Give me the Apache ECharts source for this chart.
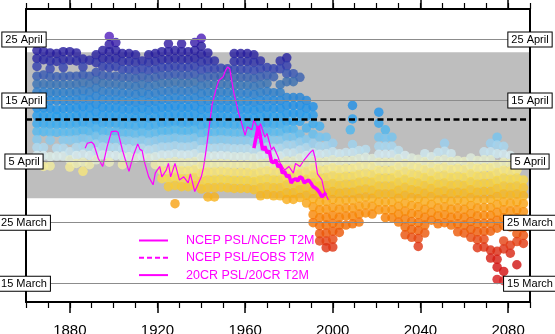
<!DOCTYPE html>
<html>
<head>
<meta charset="utf-8">
<script src="https://cdn.jsdelivr.net/npm/echarts@6.0.0/dist/echarts.min.js"></script>
<style>
  html, body { margin: 0; padding: 0; background: #fff; }
  #chart { width: 555px; height: 334px; }
</style>
</head>
<body>
<div id="chart"></div>
<script>
// Date axis runs in day units; tick labels name the calendar dates.
const yTickValues = [75, 85, 95, 105, 115];
const yTickLabels = ['15 March', '25 March', '5 April', '15 April', '25 April'];
const xLabelYears = [1880, 1920, 1960, 2000, 2040, 2080];

// Climatological range (grey band) and mean date (dashed line)
const bandLow = 89.0;
const bandHigh = 112.9;
const meanDate = 101.9;

// Ensemble dates: each row is [year, date, date, ...]
const historicalEarly = [
  [1865,113.2,111.9,110.6,109,107.7,106.4,105.1,103.8,102.5,101.2,99.9,98.6,97.3,96,95],
  [1868,113,111.7,109.2,107.7,106.4,105.1,103.8,102.5,101.2,99.9,97.3,96,94.2],
  [1871,112.8,111.5,110.2,108.9,107.6,106.3,105,103.7,102.4,101.1,99.8,98.5,95.8,94.3],
  [1874,112.7,111.4,108.9,107.6,106.3,105,103.5,102.4,101.1,99.8,97.2,95.9],
  [1877,113,111.7,110.4,108.9,107.6,106.3,105,103.7,102.4,101.1,99.8,98.5,97.2,95.9],
  [1880,113,111.6,109,107.6,106.3,105,103.7,102.4,101.1,99.8,98.5,96.6,95.3,94.1],
  [1883,112.8,111.5,109,107.7,106.4,105.1,103.8,102.5,101.2,99.9,98.6,97.3,96,94.7],
  [1886,111.8,110.5,109.2,107.9,106.6,105.3,104,102.7,101.4,100.1,98.8,97.5,96.2,94.9,93.4],
  [1889,111.6,109,107.7,106.4,105.1,103.8,102.5,101.2,99.9,98.6,97.3,96,94.5],
  [1892,112.5,111.2,109.6,108.3,107,105.7,104.4,103.1,101.8,100.5,99.2,97.9,96.6,95.3],
  [1895,113.2,111.9,110.6,109.1,107.8,106.5,105.2,103.9,102.6,101.3,100,98.7,97.4,96.1],
  [1898,115.5,114.2,113,111.7,110.4,109,107.7,106.4,105.1,103.8,102.5,101.2,99.9,98.6,97.3,96,94.9],
  [1901,114.5,113.2,111.9,110.6,109,107.7,106.4,105.1,103.8,102.5,101.2,99.9,98.6,97.3,96],
  [1904,112.7,111.4,110.1,108.8,107.5,106.2,104.9,103.6,102.3,101,99.7,98.4,97.1,95.8,94.5],
  [1907,112.7,111.4,110.1,108.8,107.5,106.2,104.9,103.6,102.3,101,99.7,98.4,97.1,95.8],
  [1910,112.5,111.2,109.9,108.6,107.3,106,104.7,103.4,102.1,100.8,99.5,98.2,96.9,95.6],
  [1913,111.5,110.2,108.9,107.6,106.3,105,103.7,102.4,101.1,99.8,98.5,97.2,95.9],
  [1916,112.5,111.2,109.9,108.6,107.3,106,104.7,103.4,102.1,100.8,99.5,98.2,96.9,95.6],
  [1919,112.7,111.4,110.1,108.8,107.5,106.2,104.9,103.6,102.3,101,99.7,98.4,97.1,95.8,94.5],
  [1922,113,111.7,110.4,109.1,107.8,106.5,105.2,103.9,102.6,101.3,100,98.7,97.4,96.1,94.8,93.5,92.2],
  [1925,114.3,113,111.7,110.4,109.1,107.8,106.5,105.2,103.9,102.6,101.3,100,98.7,97.4,96.1,94.8,93.5,92.2,90.9],
  [1928,113.2,111.9,110.6,109.3,108,106.7,105.4,104.1,102.8,101.5,100.2,98.9,97.6,96.3,95,93.7,92.4,91.1,88.1],
  [1931,114.3,113,111.7,110.4,109.1,107.8,106.5,105.2,103.9,102.6,101.3,100,98.7,97.4,96.1,94.8,93.5,92.2,90.9],
  [1934,113,111.7,110.4,109.1,107.8,106.5,105.2,103.9,102.6,101.3,100,98.7,97.4,96.1,94.8,93.5,92.2,90.9],
  [1937,114.5,113.2,111.9,110.6,109.3,108,106.7,105.4,104.1,102.8,101.5,100.2,98.9,97.6,96.3,95,93.7,92.4,91.1],
  [1940,115.2,113.9,112.6,111.3,110,108.7,107.4,106.1,104.8,103.5,102.2,100.9,99.6,98.3,97,95.7,94.4,93.1,91.8,90.5],
  [1943,112.8,111.5,110.2,108.9,107.6,106.3,105,103.7,102.4,101.1,99.8,98.5,97.2,95.9,94.6,93.3,92,90.7,89.2]
];

const historicalLate = [
  [1946,111.5,110.2,108.9,107.6,106.3,105,103.7,102.4,101.1,99.8,98.5,97.2,95.9,94.6,93.3,92,90.7,89.2],
  [1949,110.3,109,107.7,106.4,105.1,103.8,102.5,101.2,99.9,98.6,97.3,96,94.7,93.4,92.1,90.8],
  [1952,110.2,108.9,107.6,106.3,105,103.7,102.4,101.1,99.8,98.5,97.2,95.9,94.6,93.3,92,90.7],
  [1955,112.7,111.4,110.1,108.8,107.5,106.2,104.9,103.6,102.3,101,99.7,98.4,97.1,95.8,94.5,93.2,91.9,90.6],
  [1958,112.7,111.4,110.1,108.8,107.5,106.2,104.9,103.6,102.3,101,99.7,98.4,97.1,95.8,94.5,93.2,91.9,90.6],
  [1961,112.7,111.4,110.1,108.8,107.5,106.2,104.9,103.6,102.3,101,99.7,98.4,97.1,95.8,94.5,93.2,91.9,90.6],
  [1964,112.5,111.2,109.9,108.6,107.3,106,104.7,103.4,102.1,100.8,99.5,98.2,96.9,95.6,94.3,93,91.7,90.4],
  [1967,111.5,110.2,108.9,107.6,106.3,105,103.7,102.4,101.1,99.8,98.5,97.2,95.9,94.6,93.3,92,90.7,89.4],
  [1970,110.4,109.1,107.8,106.5,105.2,103.9,102.6,101.3,100,98.7,97.4,96.1,94.8,93.5,92.2,90.9,89.6],
  [1973,110.2,108.9,106.3,105,103.7,102.4,101.1,99.8,98.5,97.2,95.9,94.6,93.3,92,90.7,89.4],
  [1976,111.5,110.2,107.6,106.3,105,103.7,102.4,101.1,99.8,98.5,97.2,95.9,94.6,93.3,92,90.7,89.4],
  [1979,112,110.7,109.4,108.1,105.5,104.2,102.9,101.6,100.3,99,97.7,96.4,95.1,93.8,92.5,91.2,89.9,88.8],
  [1982,109.4,108.1,105.5,104.2,102.9,101.6,100.3,99,97.7,96.4,95.1,93.8,92.5,91.2,89.9,88.8],
  [1985,108.8,105.5,104.2,102.9,101.6,99.5,98.2,96.9,95.6,94.3,93,91.7,90.4,89.1],
  [1988,105,103.7,102.4,100.5,98.6,97.3,96,94.7,93.4,92.1,90.8,89.5,88.2]
];

const projected = [
  [1991,104,102.6,101.2,99.5,98,96.5,95.2,94,92.8,91.5,90.2,88.9,87.6,86.3,85],
  [1994,100.8,99,97.5,96.2,94.9,93.6,92.3,91,89.7,88.4,87.1,85.8,84.5,83.2,82],
  [1997,99,97.6,96.3,95,93.7,92.4,91.1,89.8,88.5,87.2,85.9,84.6,83.3,82,80.9],
  [2000,98,96.6,95.3,94,92.7,91.4,90.1,88.8,87.5,86.2,84.9,83.6,82.3,81],
  [2003,96.3,95,93.7,92.4,91.1,89.8,88.5,87.2,85.9,84.6,83.4],
  [2006,96.5,95.2,93.9,92.6,91.3,90,88.7,87.4,86.1,84.6],
  [2008,100.2],
  [2009,104.2,102,97.8,96.5,95.2,93.9,92.6,91.3,90,88.7,87.4,86.1,84.8],
  [2012,96.8,95.5,94.2,92.9,91.6,90.3,89,87.7,86.4,85.1],
  [2015,97,95.7,94.4,93.1,91.8,90.5,89.2,87.9,86.6],
  [2018,95.5,94.2,92.9,91.6,90.3,89,87.7,86.4],
  [2021,103.1,101.3,99,97.5,96.2,94.9,93.6,92.3,91,89.7,88.4,87.1],
  [2024,100.2,98.8,97.5,96.2,94.9,93.6,92.3,91,89.7,88.4,87.1,85.8],
  [2027,99,97.5,96.2,94.9,93.6,92.3,91,89.7,88.4,87.1,85.8],
  [2030,96.8,95.5,94.2,92.9,91.6,90.3,89,87.7,86.4,85.1],
  [2033,96,94.7,93.4,92.1,90.8,89.5,88.2,86.9,85.6,84.3,83],
  [2036,95.6,94.3,93,91.7,90.4,89.1,87.8,86.5,85.2,83.9,82.6],
  [2039,95.4,94.1,92.8,91.5,90.2,88.9,87.6,86.3,85,83.7,82.4,81.1],
  [2042,96.3,95,93.7,92.4,91.1,89.8,88.5,87.2,85.9,84.6,83.3],
  [2045,95.8,94.5,93.2,91.9,90.6,89.3,88,86.7,85.4],
  [2048,96.5,95.2,93.9,92.6,91.3,90,88.7,87.4,86.1,84.8],
  [2051,98,96.7,95.4,94.1,92.8,91.5,90.2,88.9,87.6,86.3,85],
  [2054,96.3,95,93.7,92.4,91.1,89.8,88.5,87.2,85.9,84.6],
  [2057,95.2,93.9,92.6,91.3,90,88.7,87.4,86.1,84.8,83.5],
  [2060,95,93.7,92.4,91.1,89.8,88.5,87.2,85.9,84.6,83.3],
  [2063,95.6,94.3,93,91.7,90.4,89.1,87.8,86.5,85.2,83.9,82.6],
  [2066,95.2,93.9,92.6,91.3,90,88.7,87.4,86.1,84.8,83.5,82.2,80.9],
  [2069,96.6,95.3,94,92.7,91.4,90.1,88.8,87.5,86.2,84.9,83.6,82.3,81],
  [2072,98,96.6,95.3,94,92.7,91.4,90.1,88.8,87.5,86.2,84.9,83.6,80.5,79.2],
  [2075,99,97.7,96.3,94.5,93.2,91.9,90.6,89.3,88,86.7,85.4,84.1,80.3,79,77.7,75.7],
  [2078,97.5,96.2,94.9,93.6,92.3,91,89.7,88.4,87.1,85.8,84.5,82,80.7,77,75.5],
  [2081,96,94.7,93.4,92.1,90.8,89.5,88.2,86.9,85.6,84.3,81.3,80],
  [2084,93.6,92.3,91,89.7,88.4,87.1,85.8,84.5,83.2,81.9,78.1],
  [2087,92,90.7,89.4,88.1,86.8,85.5,84.2,82.9,81.6]
];

// Observation-based reconstructions
const ncepYears = [1964,1965,1966,1967,1968,1969,1970,1971,1972,1973,1974,1975,1976,1977,1978,1979,1980,1981,1982,1983,1984,1985,1986,1987,1988,1989,1990,1991,1992,1993,1994,1995,1996,1997];
const ncepDates = [97.2,99,100.8,99,96.9,97.5,96.4,96.8,95,94.8,95.3,94.1,94.5,93.1,93.4,92.5,92.8,91.5,92,92.2,91.8,92.5,92.3,91.5,91.8,92,91.5,90.9,90.7,90.4,89.9,89.2,89.6,89.9];

const eobsYears = [1965,1967,1969,1971,1973,1975,1977,1979,1981,1983,1985,1987,1989,1991,1993,1995,1997];
const eobsDates = [99.5,98.2,97,96.3,95,94.6,93.5,92.7,92,92.3,92.2,91.8,91.7,90.8,90.2,89.5,89.6];

const cr20Years = [1887,1888,1890,1891,1893,1895,1897,1899,1901,1902,1904,1906,1907,1909,1911,1912,1913,1914,1916,1918,1919,1921,1922,1924,1925,1926,1928,1930,1932,1934,1935,1937,1938,1940,1941,1942,1943,1944,1945,1947,1948,1950,1951,1952,1953,1954,1955,1956,1957,1958,1960,1961,1963,1964,1966,1967,1969,1970,1972,1973,1975,1976,1978,1980,1982,1983,1985,1987,1989,1990,1991,1992,1993,1994,1995,1996,1997,1998];
const cr20Dates = [97.2,98,98.2,97.8,95.5,94.2,97.4,99.9,100,99.8,96.9,94.5,93.4,96,97.9,97,96.8,95,92.5,91.2,93.1,94.2,92.5,93.6,94.7,92.5,94.7,92,92.5,91.5,93,90.1,90.9,92.5,94,96.4,99,101.8,104.5,107.2,108.3,108.9,109.9,110.5,110.2,108,106,104.5,103,101.8,99.3,100.7,100.2,101.8,100.2,101.2,99,99.6,96.9,97.4,95.8,94.7,93.6,94.2,93.1,94.7,94.2,95.3,96.2,96.6,96.9,95.5,93,92.5,92,90.4,89.5,88.7];

// Colour scale from early (red) to late (purple) dates, in 2-day steps from 74 to 118
const dateColors = [
  '#e86070','#d40a0a','#d01010','#d82410','#e44010','#ee6000','#f68000','#f8a010',
  '#f8bc20','#f8d848','#f8ec90','#d8ecf0','#98d0f0','#50b8f0','#28a0f0','#1e90e8',
  '#2a80d0','#3a70b0','#3448b4','#2620a0','#24169a','#6020c8','#8434d8'
];

const FONT = '"Liberation Sans", Arial, Helvetica, sans-serif';
const MAGENTA = '#ff00ff';

const rowsToPoints = rows => rows.flatMap(r => r.slice(1).map(v => [r[0], v]));
const pairUp = (xs, ys) => xs.map((x, i) => [x, ys[i]]);
const ensemblePoints = rowsToPoints(historicalEarly)
  .concat(rowsToPoints(historicalLate))
  .concat(rowsToPoints(projected));

const labelFor = v => {
  const i = yTickValues.indexOf(v);
  return i >= 0 ? yTickLabels[i] : '';
};

const xBase = { type: 'value', min: 1860, max: 2090, splitLine: { show: false } };
const yLabelBox = {
  customValues: yTickValues,
  formatter: labelFor,
  align: 'center',
  color: '#000',
  fontFamily: FONT,
  fontSize: 11,
  backgroundColor: '#fff',
  borderColor: '#000',
  borderWidth: 1,
  padding: [2, 3, 1, 3]
};

const chart = echarts.init(document.getElementById('chart'));
chart.setOption({
  animation: false,
  backgroundColor: '#fff',
  grid: { left: 26, right: 25, top: 9, bottom: 32, containLabel: false, outerBoundsMode: 'none' },
  xAxis: [
    Object.assign({}, xBase, {
      position: 'bottom', interval: 10,
      axisLine: { lineStyle: { color: '#000', width: 2 } },
      axisTick: { length: 6, lineStyle: { color: '#000', width: 1.2 } },
      axisLabel: { show: false }
    }),
    Object.assign({}, xBase, {
      position: 'bottom',
      axisLine: { show: false },
      axisTick: { customValues: xLabelYears, length: 11, lineStyle: { color: '#000', width: 1.5 } },
      axisLabel: {
        customValues: xLabelYears, formatter: v => String(v),
        color: '#000', fontFamily: FONT, fontSize: 15, margin: 21
      }
    }),
    Object.assign({}, xBase, {
      position: 'top', interval: 10,
      axisLine: { lineStyle: { color: '#000', width: 2 } },
      axisTick: { length: 6, lineStyle: { color: '#000', width: 1.2 } },
      axisLabel: { show: false }
    }),
    Object.assign({}, xBase, {
      position: 'top',
      axisLine: { show: false },
      axisTick: { customValues: xLabelYears, length: 9, lineStyle: { color: '#000', width: 1.5 } },
      axisLabel: { show: false }
    })
  ],
  yAxis: [
    {
      type: 'value', min: 72, max: 120, position: 'left', z: 10,
      axisLine: { show: true, lineStyle: { color: '#000', width: 2 } },
      axisTick: { show: false },
      splitLine: { show: false },
      axisLabel: Object.assign({}, yLabelBox, { margin: 2 })
    },
    {
      type: 'value', min: 72, max: 120, position: 'right', z: 10,
      axisLine: { show: true, lineStyle: { color: '#000', width: 2 } },
      axisTick: { show: false },
      splitLine: { show: false },
      axisLabel: Object.assign({}, yLabelBox, { margin: 0 })
    }
  ],
  visualMap: {
    type: 'continuous',
    show: false,
    seriesIndex: 1,
    dimension: 1,
    min: 74,
    max: 118,
    inRange: { color: dateColors }
  },
  legend: {
    orient: 'vertical',
    left: 133,
    top: 229,
    itemWidth: 29,
    itemHeight: 12,
    itemGap: 4.3,
    itemStyle: { opacity: 0 },
    data: ['NCEP PSL/NCEP T2M', 'NCEP PSL/EOBS T2M', '20CR PSL/20CR T2M'],
    textStyle: { color: MAGENTA, fontFamily: FONT, fontSize: 12.5, padding: [0, 0, 0, 13] }
  },
  series: [
    {
      // climatological range band
      type: 'line', z: 1, silent: true, symbol: 'none',
      data: [[1860, bandLow]], lineStyle: { opacity: 0 },
      markArea: {
        silent: true,
        itemStyle: { color: '#bebebe' },
        data: [[{ yAxis: bandLow }, { yAxis: bandHigh }]]
      }
    },
    {
      type: 'scatter', z: 2, silent: true,
      symbol: 'circle', symbolSize: 9.5,
      data: ensemblePoints
    },
    {
      // date gridlines and mean date
      type: 'line', z: 3, silent: true, symbol: 'none',
      data: [[1860, meanDate]], lineStyle: { opacity: 0 },
      markLine: {
        silent: true, symbol: ['none', 'none'], label: { show: false },
        data: yTickValues.map(v => ({ yAxis: v, lineStyle: { color: '#8c8c8c', width: 1, type: 'solid' } }))
          .concat([{ yAxis: meanDate, lineStyle: { color: '#000', width: 2.5, type: [6, 3.5] } }])
      }
    },
    {
      name: '20CR PSL/20CR T2M', type: 'line', z: 4, symbol: 'none',
      data: pairUp(cr20Years, cr20Dates),
      lineStyle: { color: MAGENTA, width: 1.2 }, itemStyle: { color: MAGENTA }
    },
    {
      name: 'NCEP PSL/EOBS T2M', type: 'line', z: 5, symbol: 'none',
      data: pairUp(eobsYears, eobsDates),
      lineStyle: { color: MAGENTA, width: 1.5, type: [5, 3] }, itemStyle: { color: MAGENTA }
    },
    {
      name: 'NCEP PSL/NCEP T2M', type: 'line', z: 6, symbol: 'none',
      data: pairUp(ncepYears, ncepDates),
      lineStyle: { color: MAGENTA, width: 3.5 }, itemStyle: { color: MAGENTA }
    }
  ]
});
</script>
</body>
</html>
